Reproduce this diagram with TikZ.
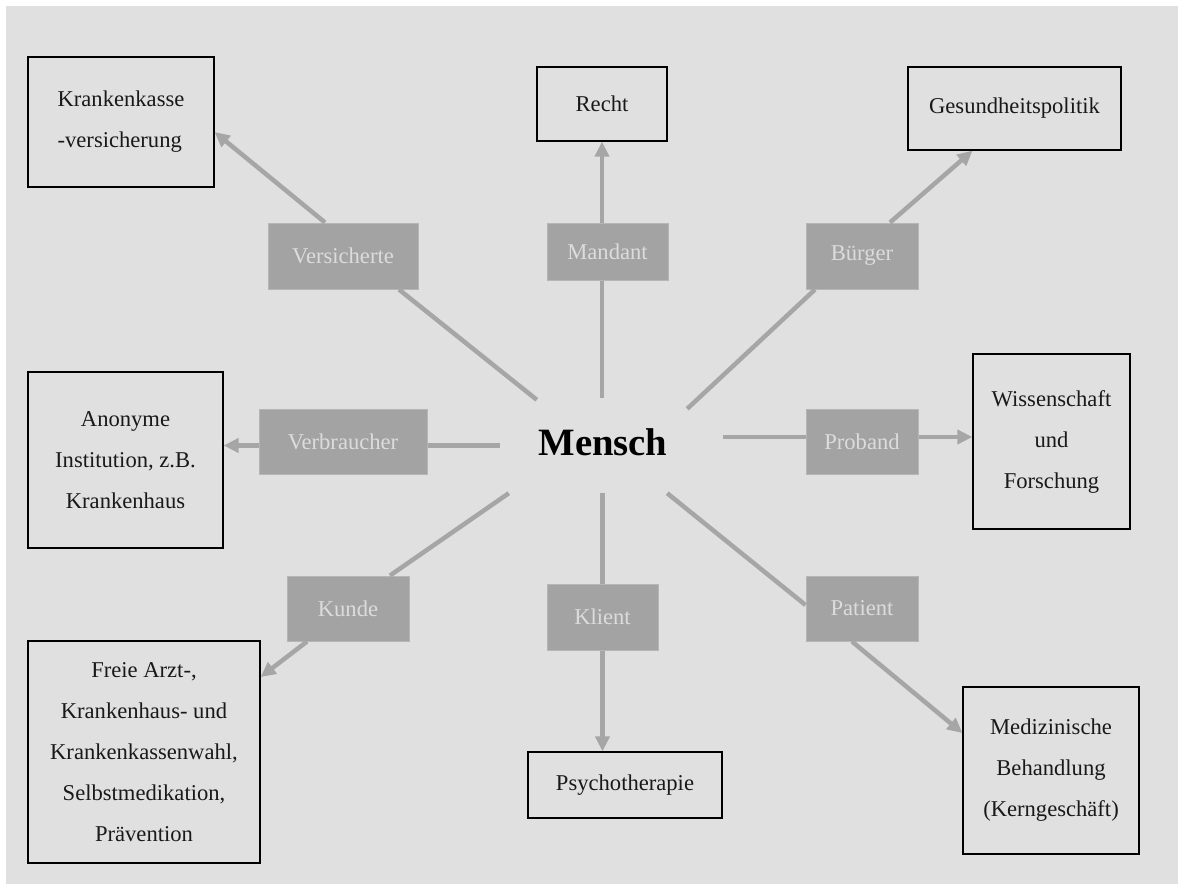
\documentclass[tikz,border=0pt]{standalone}
\usepackage{fontspec}
\setmainfont{Liberation Serif}
\usetikzlibrary{arrows.meta}
\definecolor{bgGray}{HTML}{E0E0E0}
\definecolor{roleGray}{HTML}{A3A3A3}
\definecolor{roleText}{HTML}{DCDCDC}
\definecolor{roleEdge}{HTML}{B6B6B6}
\definecolor{linkGray}{HTML}{A6A6A6}

\begin{document}
\begin{tikzpicture}[x=1pt, y=-1pt,
		areaBox/.style={rectangle, draw=black, line width=1.2pt, inner sep=0pt, align=center, text=black!90, font=\fontsize{22.6}{41}\selectfont},
		roleBox/.style={rectangle, fill=roleGray, draw=roleEdge, line width=1pt, inner sep=0pt, text=roleText, font=\fontsize{22.6}{27}\selectfont},
		link/.style={draw=linkGray, line width=4.5pt},
		arrowLink/.style={link, -{Triangle[length=15pt,width=14pt]}}]
		\useasboundingbox (0,0) rectangle (1178,884);
		\fill[bgGray] (6,6) rectangle (1178,884);

		% centre
		\node[rectangle, minimum width=223pt, minimum height=95pt, inner sep=0pt, label={[xshift=-8.5pt, yshift=3.5pt, font=\fontsize{38.7}{40}\selectfont\bfseries]center:Mensch}](mensch) at (611.5,445.5){};

		% outer boxes
		\node[areaBox, align=left, minimum width=186pt, minimum height=130pt](kasseBox) at (121,122){Krankenkasse\\-versicherung};
		\node[areaBox, minimum width=130pt, minimum height=74pt](rechtBox) at (602,104){Recht};
		\node[areaBox, minimum width=213pt, minimum height=83pt](gesundBox) at (1014.5,108.5){Gesundheitspolitik};
		\node[areaBox, minimum width=195pt, minimum height=176pt](anonBox) at (125.5,460){Anonyme\\Institution, z.B.\\Krankenhaus};
		\node[areaBox, minimum width=157pt, minimum height=175pt](wissBox) at (1051.5,441.5){Wissenschaft\\und\\Forschung};
		\node[areaBox, minimum width=232pt, minimum height=222pt](freieBox) at (144,752){Freie Arzt-,\\Krankenhaus- und\\Krankenkassenwahl,\\Selbstmedikation,\\Prävention};
		\node[areaBox, minimum width=194pt, minimum height=66pt](psychoBox) at (625,785){Psychotherapie};
		\node[areaBox, minimum width=176pt, minimum height=167pt](medBox) at (1051,770.5){Medizinische\\Behandlung\\(Kerngeschäft)};

		% role boxes
		\node[roleBox, minimum width=150pt, minimum height=66pt](versBox) at (343,256){Versicherte};
		\node[roleBox, minimum width=121pt, minimum height=57pt](mandantBox) at (607.5,251.5){Mandant};
		\node[roleBox, minimum width=112pt, minimum height=66pt](buergerBox) at (862,256){Bürger};
		\node[roleBox, minimum width=168pt, minimum height=65pt](verbBox) at (343,441.5){Verbraucher};
		\node[roleBox, minimum width=112pt, minimum height=65pt](probandBox) at (862,441.5){Proband};
		\node[roleBox, minimum width=122pt, minimum height=65pt](kundeBox) at (348,608.5){Kunde};
		\node[roleBox, minimum width=111pt, minimum height=66pt](klientBox) at (602.5,617){Klient};
		\node[roleBox, minimum width=112pt, minimum height=65pt](patientBox) at (862,608.5){Patient};

		% draw spokes from centre to roles
		\draw[link] ([xshift=37pt, yshift=-2pt]mensch.north west) -- ([xshift=56pt]versBox.south);
		\draw[link] (rechtBox.south |- mensch.north) -- (rechtBox.south |- mandantBox.south);
		\draw[link] ([xshift=-36pt, yshift=-11pt]mensch.north east) -- ([xshift=-47pt]buergerBox.south);
		\draw[link] (mensch.west) -- (mensch.west -| verbBox.east);
		\draw[link] ([yshift=8.5pt]mensch.east) -- ([yshift=4.5pt]probandBox.west);
		\draw[link] ([xshift=9pt]mensch.south west) -- ([xshift=42pt]kundeBox.north);
		\draw[link] (klientBox.north |- mensch.south) -- (klientBox.north);
		\draw[link] ([xshift=-56pt]mensch.south east) -- ([yshift=3.5pt]patientBox.west);

		% draw arrows from roles to boxes
		\draw[arrowLink] ([xshift=-18pt]versBox.north) -- ([yshift=-10pt]kasseBox.east);
		\draw[arrowLink] (rechtBox.south |- mandantBox.north) -- (rechtBox.south);
		\draw[arrowLink] ([xshift=28pt]buergerBox.north) -- ([xshift=-42pt]gesundBox.south);
		\draw[arrowLink] (verbBox.west |- mensch.west) -- (anonBox.east |- mensch.west);
		\draw[arrowLink] ([yshift=4.5pt]probandBox.east) -- ([yshift=4.5pt]wissBox.west);
		\draw[arrowLink] ([xshift=-41pt]kundeBox.south) -- ([yshift=75pt]freieBox.east);
		\draw[arrowLink] (klientBox.south) -- (klientBox.south |- psychoBox.north);
		\draw[arrowLink] ([xshift=-10pt]patientBox.south) -- ([yshift=37.5pt]medBox.west);
	\end{tikzpicture}
\end{document}
